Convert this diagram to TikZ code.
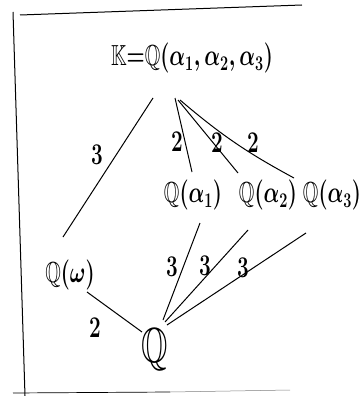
\documentclass[tikz,border=0pt]{standalone}
\usepackage{amssymb}
\usepackage{amsmath}
\usepackage{graphicx}
\usetikzlibrary{calc}
\newcommand{\tallx}[1]{\scalebox{1}[1.45]{\boldmath$#1$}}
\begin{document}
\begin{tikzpicture}[x=1pt,y=-1pt,
  field/.style={inner sep=0pt,font=\fontsize{20}{24}\selectfont},
  deg/.style={inner sep=0pt,font=\fontsize{22}{26}\selectfont},
  ln/.style={line width=1pt}]
\useasboundingbox (0,0) rectangle (361,396);
% frame
\draw[ln] (13,12) -- (25,396);
\draw[ln] (20,15) -- (302,5);
\draw[line width=0.7pt] (13,393) -- (170,392);
\draw[line width=0.5pt,gray] (170,392) -- (290,390);
% nodes
\node[field,font=\fontsize{20}{24}\selectfont] (K) at (192,58) {\tallx{\mathbb{K}{=}\mathbb{Q}(\alpha_1,\alpha_2,\alpha_3)}};
\node[field] (Qa1) at (193,195) {\tallx{\mathbb{Q}(\alpha_1)}};
\node[field] (Qa2) at (268,195) {\tallx{\mathbb{Q}(\alpha_2)}};
\node[field] (Qa3) at (332,195) {\tallx{\mathbb{Q}(\alpha_3)}};
\node[field] (Qw) at (70,275) {\tallx{\mathbb{Q}(\omega)}};
\node[field,font=\fontsize{34}{38}\selectfont] (Q) at (155,350) {\tallx{\mathbb{Q}}};
% connectors
\draw[ln] ($(K)+(-39,40)$) -- ($(Qw)+(-7,-38)$);
\draw[ln] ($(K)+(-17,40)$) -- ($(Qa1)+(-1,-23)$);
\draw[ln] ($(K)+(-14,42)$) -- ($(Qa2)+(-30,-22)$);
\draw[ln] ($(K)+(-12,42)$) to[bend right=6] ($(Qa3)+(-38,-17)$);
\draw[ln] ($(Qa1)+(7,28)$) -- ($(Q)+(8,-30)$);
\draw[ln] ($(Qa2)+(-20,35)$) -- ($(Q)+(10,-28)$);
\draw[ln] ($(Qa3)+(-26,38)$) -- ($(Q)+(12,-25)$);
\draw[ln] ($(Qw)+(17,17)$) -- ($(Q)+(-13,-18)$);
% degree labels
\node[deg] (l1) at (97,155) {\tallx{3}};
\node[deg] (l2) at (177,142) {\tallx{2}};
\node[deg] (l3) at (217,143) {\tallx{2}};
\node[deg] (l4) at (253,143) {\tallx{2}};
\node[deg] (l5) at (172,267) {\tallx{3}};
\node[deg] (l6) at (205,266) {\tallx{3}};
\node[deg] (l7) at (243,268) {\tallx{3}};
\node[deg] (l8) at (95,328) {\tallx{2}};
\end{tikzpicture}
\end{document}
